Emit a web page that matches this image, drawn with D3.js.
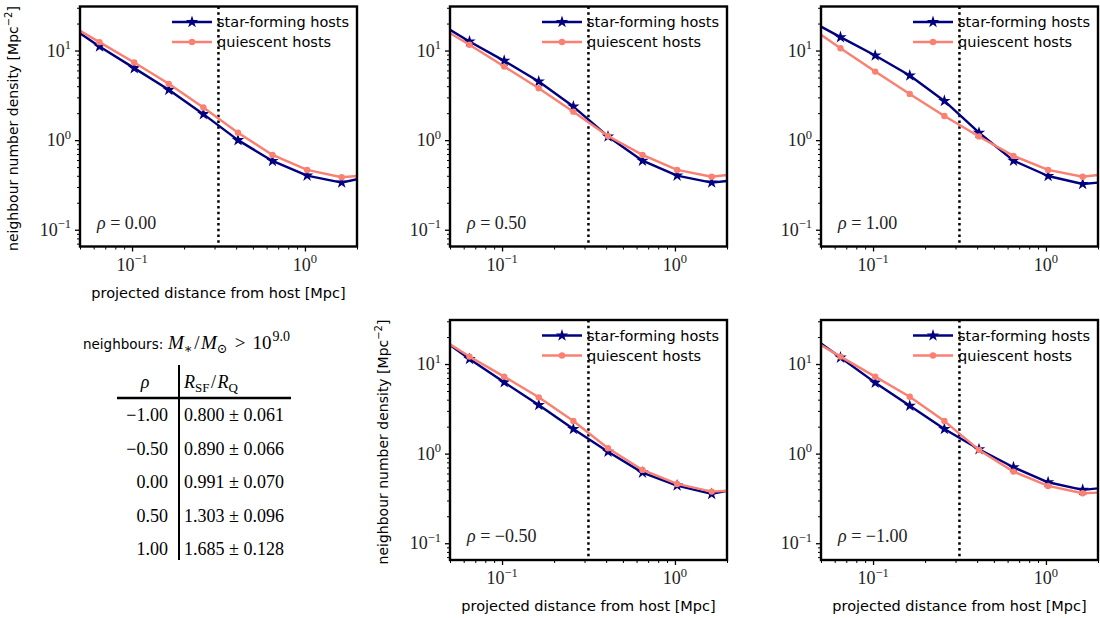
<!DOCTYPE html>
<html>
<head>
<meta charset="utf-8">
<script src="https://cdn.jsdelivr.net/npm/d3@7"></script>
<style>
  body { margin: 0; background: #fff; }
  .serif { font-family: "Liberation Serif", "DejaVu Serif", serif; }
  .sans  { font-family: "DejaVu Sans", "Liberation Sans", sans-serif; }
</style>
</head>
<body>
<svg id="fig" width="1100" height="618"></svg>
<script>
// Radial bins: line runs over the full range, markers sit at the bin centres.
const lineX      = [0.05, 0.0648, 0.1029, 0.163, 0.2585, 0.41, 0.649, 1.029, 1.631, 2.0];
const markerIdx  = [1, 2, 3, 4, 5, 6, 7, 8];
const xDomain    = [0.05, 2.0];
const yDomain    = [0.065, 31];
const separation = 0.316;  // dotted reference radius [Mpc]

// Neighbour surface density [Mpc^-2] for star-forming (sf) and quiescent (q) hosts
const sfRho000 = [15.6, 11.1, 6.36, 3.64, 1.95, 1.00, 0.586, 0.402, 0.336, 0.366];
const qRho000  = [16.6, 12.4, 7.35, 4.25, 2.31, 1.21, 0.684, 0.465, 0.385, 0.398];
const sfRho050 = [17.0, 12.6, 7.67, 4.51, 2.37, 1.10, 0.59, 0.402, 0.336, 0.35];
const qRho050  = [15.6, 11.6, 6.62, 3.80, 2.08, 1.11, 0.684, 0.465, 0.39, 0.408];
const sfRho100 = [18.5, 14.1, 8.8, 5.26, 2.74, 1.21, 0.59, 0.398, 0.324, 0.336];
const qRho100  = [15.0, 10.6, 5.82, 3.28, 1.86, 1.10, 0.667, 0.465, 0.39, 0.408];
const sfRhoM050 = [16.3, 11.4, 6.25, 3.49, 1.88, 1.05, 0.614, 0.44, 0.355, 0.384];
const qRhoM050  = [16.6, 12.1, 7.23, 4.25, 2.31, 1.15, 0.658, 0.459, 0.377, 0.386];
const sfRhoM100 = [17.0, 11.8, 6.2, 3.43, 1.88, 1.12, 0.705, 0.479, 0.394, 0.41];
const qRhoM100  = [16.3, 12.1, 7.23, 4.32, 2.31, 1.10, 0.63, 0.436, 0.361, 0.367];

const seriesNames = ["star-forming hosts", "quiescent hosts"];
const xTicks = [0.1, 1];
const xTickExp = ["−1", "0"];
const yTicks = [0.1, 1, 10];
const yTickExp = ["−1", "0", "1"];

// Summary table
const tableRho   = ["−1.00", "−0.50", "0.00", "0.50", "1.00"];
const tableRatio = ["0.800", "0.890", "0.991", "1.303", "1.685"];
const tableErr   = ["0.061", "0.066", "0.070", "0.096", "0.128"];

const colSF = "#000080", colQ = "#fa8072";
const serifSize = "18px", supSize = "12.5px", sansSize = "14.5px";

// Panel layout
const PW = 277, PH = 240;
const panels = [
  { rho: "0.00",  sf: sfRho000,  q: qRho000,  x: 80,  y: 6.5, xlab: true,  ylab: true },
  { rho: "0.50",  sf: sfRho050,  q: qRho050,  x: 450, y: 6.5, xlab: false, ylab: false },
  { rho: "1.00",  sf: sfRho100,  q: qRho100,  x: 821, y: 6.5, xlab: false, ylab: false },
  { rho: "−0.50", sf: sfRhoM050, q: qRhoM050, x: 450, y: 320, xlab: true,  ylab: true },
  { rho: "−1.00", sf: sfRhoM100, q: qRhoM100, x: 821, y: 320, xlab: true,  ylab: false },
];

const svg = d3.select("#fig");
svg.append("rect").attr("width", 1100).attr("height", 618).attr("fill", "#fff");

const starSym = d3.symbol().type(d3.symbolStar).size(48);

function powLabel(sel, exp) {
  sel.append("tspan").text("10");
  sel.append("tspan").attr("dy", -7.5).attr("font-size", supSize).text(exp);
}

panels.forEach((p, pi) => {
  const x = d3.scaleLog().domain(xDomain).range([0, PW]);
  const y = d3.scaleLog().domain(yDomain).range([PH, 0]);
  const g = svg.append("g").attr("transform", `translate(${p.x},${p.y})`);

  const clipId = "clip" + pi;
  g.append("clipPath").attr("id", clipId)
    .append("rect").attr("width", PW).attr("height", PH);

  // axes with log minor ticks
  const xMinor = [];
  [0.01, 0.1, 1].forEach(d => { for (let k = 1; k <= 9; k++) { const v = d * k; if (v >= xDomain[0] - 1e-9 && v <= xDomain[1] + 1e-9) xMinor.push(v); } });
  const yMinor = [];
  [0.01, 0.1, 1, 10].forEach(d => { for (let k = 1; k <= 9; k++) { const v = d * k; if (v >= yDomain[0] && v <= yDomain[1]) yMinor.push(v); } });

  const xAxisMinor = d3.axisBottom(x).tickValues(xMinor.filter(v => !xTicks.some(t => Math.abs(t - v) < 1e-9))).tickSize(3).tickFormat("");
  const xAxisMajor = d3.axisBottom(x).tickValues(xTicks).tickSize(5).tickFormat("");
  const yAxisMinor = d3.axisLeft(y).tickValues(yMinor.filter(v => !yTicks.some(t => Math.abs(t - v) < 1e-9))).tickSize(3).tickFormat("");
  const yAxisMajor = d3.axisLeft(y).tickValues(yTicks).tickSize(5).tickFormat("");

  [xAxisMinor, xAxisMajor].forEach((a, k) => {
    const ga = g.append("g").attr("transform", `translate(0,${PH})`).call(a);
    ga.select(".domain").remove();
    ga.selectAll("line").attr("stroke", "#000").attr("stroke-width", k ? 1.3 : 1);
  });
  [yAxisMinor, yAxisMajor].forEach((a, k) => {
    const ga = g.append("g").call(a);
    ga.select(".domain").remove();
    ga.selectAll("line").attr("stroke", "#000").attr("stroke-width", k ? 1.3 : 1);
  });

  xTicks.forEach((t, i) => {
    const tx = g.append("text").attr("class", "serif").attr("font-size", serifSize)
      .attr("x", x(t)).attr("y", PH + 24).attr("text-anchor", "middle").attr("fill", "#222");
    powLabel(tx, xTickExp[i]);
  });
  yTicks.forEach((t, i) => {
    const ty = g.append("text").attr("class", "serif").attr("font-size", serifSize)
      .attr("x", -9).attr("y", y(t) + 6).attr("text-anchor", "end").attr("fill", "#222");
    powLabel(ty, yTickExp[i]);
  });

  // reference radius
  g.append("line").attr("x1", x(separation)).attr("x2", x(separation))
    .attr("y1", 0).attr("y2", PH)
    .attr("stroke", "#000").attr("stroke-width", 2.5).attr("stroke-dasharray", "2.5,3.2");

  const line = d3.line().x((d, i) => x(lineX[i])).y(d => y(d));
  const plot = g.append("g").attr("clip-path", `url(#${clipId})`);

  // star-forming hosts
  plot.append("path").datum(p.sf).attr("d", line)
    .attr("fill", "none").attr("stroke", colSF).attr("stroke-width", 2.4).attr("stroke-linejoin", "round");
  plot.selectAll(".sfm").data(markerIdx).join("path")
    .attr("transform", i => `translate(${x(lineX[i])},${y(p.sf[i])})`)
    .attr("d", starSym).attr("fill", colSF);

  // quiescent hosts
  plot.append("path").datum(p.q).attr("d", line)
    .attr("fill", "none").attr("stroke", colQ).attr("stroke-width", 2.4).attr("stroke-linejoin", "round");
  plot.selectAll(".qm").data(markerIdx).join("circle")
    .attr("cx", i => x(lineX[i])).attr("cy", i => y(p.q[i])).attr("r", 3.2).attr("fill", colQ);

  // frame
  g.append("rect").attr("width", PW).attr("height", PH)
    .attr("fill", "none").attr("stroke", "#000").attr("stroke-width", 2.4);

  // legend
  const lg = g.append("g").attr("transform", `translate(${PW - 185},15.5)`);
  [colSF, colQ].forEach((c, i) => {
    const row = lg.append("g").attr("transform", `translate(0,${i * 20})`);
    row.append("line").attr("x1", 0).attr("x2", 40).attr("stroke", c).attr("stroke-width", 2.4);
    if (i === 0) row.append("path").attr("transform", "translate(20,0)").attr("d", starSym).attr("fill", c);
    else row.append("circle").attr("cx", 20).attr("r", 3.2).attr("fill", c);
    row.append("text").attr("class", "sans").attr("font-size", sansSize).attr("x", 45).attr("y", 5)
      .attr("fill", "#000").text(seriesNames[i]);
  });

  // correlation label
  const rl = g.append("text").attr("class", "serif").attr("font-size", serifSize).attr("fill", "#222")
    .attr("x", 17).attr("y", PH - 18);
  rl.append("tspan").attr("font-style", "italic").text("ρ");
  rl.append("tspan").text(" = " + p.rho);

  if (p.xlab) {
    g.append("text").attr("class", "sans").attr("font-size", sansSize).attr("fill", "#000")
      .attr("x", PW / 2).attr("y", PH + 51).attr("text-anchor", "middle")
      .text("projected distance from host [Mpc]");
  }
  if (p.ylab) {
    const yl = g.append("text").attr("class", "sans").attr("font-size", "14px").attr("fill", "#000")
      .attr("transform", `translate(${-62},${PH / 2 + 2}) rotate(-90)`).attr("text-anchor", "middle");
    yl.append("tspan").text("neighbour number density [Mpc");
    yl.append("tspan").attr("dy", -6).attr("font-size", "10px").text("−2");
    yl.append("tspan").attr("dy", 6).text("]");
  }
});

// ---- summary table ----
const tb = svg.append("g");
tb.append("text").attr("class", "sans").attr("font-size", "13.5px").attr("fill", "#000")
  .attr("x", 83).attr("y", 349).text("neighbours:");
// mass-cut expression
const title = tb.append("text").attr("class", "serif").attr("font-size", "19px").attr("fill", "#000")
  .attr("x", 168).attr("y", 349);
const mt = (txt, opts = {}) => {
  const t = title.append("tspan").text(txt);
  if (opts.fs) t.attr("font-size", opts.fs);
  if (opts.it) t.attr("font-style", "italic");
  if (opts.dy) t.attr("dy", opts.dy);
  if (opts.dx) t.attr("dx", opts.dx);
  return t;
};
mt("M", { it: true }); mt("∗", { fs: "13px", dy: 4 }); mt("/", { dy: -4, dx: 1.5 });
mt("M", { it: true, dx: 1.5 }); mt("⊙", { fs: "13px", dy: 4 }); mt(">", { dy: -4, dx: 7 });
mt("10", { dx: 7 });
mt("9.0", { fs: "14px", dy: -8, dx: 1 });

tb.append("line").attr("x1", 179).attr("x2", 179).attr("y1", 365).attr("y2", 560)
  .attr("stroke", "#000").attr("stroke-width", 2);
tb.append("line").attr("x1", 117).attr("x2", 291).attr("y1", 398).attr("y2", 398)
  .attr("stroke", "#000").attr("stroke-width", 2.5);

const hr = tb.append("text").attr("class", "serif").attr("font-size", serifSize).attr("fill", "#000")
  .attr("x", 145).attr("y", 388).attr("text-anchor", "middle");
hr.append("tspan").attr("font-style", "italic").text("ρ");
const hq = tb.append("text").attr("class", "serif").attr("font-size", serifSize).attr("fill", "#000")
  .attr("x", 184).attr("y", 388);
hq.append("tspan").attr("font-style", "italic").text("R");
hq.append("tspan").attr("font-size", "13px").attr("dy", 4).text("SF");
hq.append("tspan").attr("dy", -4).attr("dx", 1.5).text("/");
hq.append("tspan").attr("font-style", "italic").attr("dx", 1.5).text("R");
hq.append("tspan").attr("font-size", "13px").attr("dy", 4).text("Q");

const rowY = d3.scalePoint().domain(d3.range(tableRho.length)).range([421, 555]);
tableRho.forEach((r, i) => {
  tb.append("text").attr("class", "serif").attr("font-size", serifSize).attr("fill", "#000")
    .attr("x", 168).attr("y", rowY(i)).attr("text-anchor", "end").text(r);
  tb.append("text").attr("class", "serif").attr("font-size", serifSize).attr("fill", "#000")
    .attr("x", 184).attr("y", rowY(i)).text(`${tableRatio[i]} ± ${tableErr[i]}`);
});
</script>
</body>
</html>
